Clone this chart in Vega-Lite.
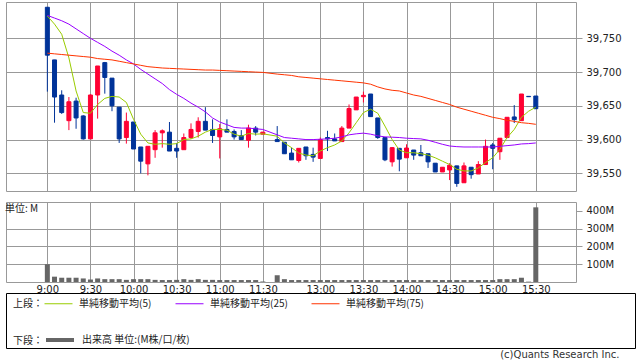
{
  "$schema": "https://vega.github.io/schema/vega-lite/v6.json",
  "padding": {"left": 4, "top": 1, "right": 4, "bottom": 2},
  "background": "white",
  "bounds": "flush",
  "spacing": 11,
  "config": {
    "view": {"stroke": "#999", "strokeWidth": 1},
    "font": "DejaVu Sans",
    "axis": {"labelFont": "DejaVu Sans", "labelFontSize": 10, "labelColor": "#222", "gridColor": "#999", "gridOpacity": 1, "gridWidth": 1, "tickColor": "#999", "domain": false, "title": null},
    "legend": {"padding": 0, "labelFont": "Noto Sans CJK JP", "labelFontSize": 10, "labelColor": "#222", "titleFont": "Noto Sans CJK JP", "titleFontSize": 10, "titleFontWeight": "normal", "titleColor": "#222"}
  },
  "title": {"text": "(c)Quants Research Inc.", "orient": "bottom", "anchor": "end", "font": "DejaVu Sans", "fontSize": 10, "fontWeight": "normal", "color": "#333", "offset": 1, "dx": -16},
  "datasets": {
    "bars": [
      {"t": 0, "o": 39796, "h": 39796, "l": 39671, "c": 39725, "ma5": 39783, "ma25": 39784, "ma75": 39728, "vol": 100},
      {"t": 1, "o": 39718, "h": 39718, "l": 39625, "c": 39663, "ma5": 39771, "ma25": 39780, "ma75": 39727, "vol": 30},
      {"t": 2, "o": 39666, "h": 39673, "l": 39638, "c": 39640, "ma5": 39756, "ma25": 39776, "ma75": 39726, "vol": 24},
      {"t": 3, "o": 39628, "h": 39663, "l": 39614, "c": 39656, "ma5": 39721, "ma25": 39771, "ma75": 39725, "vol": 24},
      {"t": 4, "o": 39657, "h": 39662, "l": 39616, "c": 39632, "ma5": 39672, "ma25": 39764, "ma75": 39724, "vol": 24},
      {"t": 5, "o": 39635, "h": 39636, "l": 39600, "c": 39601, "ma5": 39640, "ma25": 39757, "ma75": 39723, "vol": 20},
      {"t": 6, "o": 39601, "h": 39667, "l": 39601, "c": 39666, "ma5": 39639, "ma25": 39750, "ma75": 39722, "vol": 14},
      {"t": 7, "o": 39666, "h": 39709, "l": 39631, "c": 39709, "ma5": 39652, "ma25": 39744, "ma75": 39720, "vol": 20},
      {"t": 8, "o": 39714, "h": 39715, "l": 39668, "c": 39692, "ma5": 39661, "ma25": 39738, "ma75": 39719, "vol": 16},
      {"t": 9, "o": 39691, "h": 39691, "l": 39642, "c": 39650, "ma5": 39664, "ma25": 39731, "ma75": 39718, "vol": 16},
      {"t": 10, "o": 39648, "h": 39648, "l": 39595, "c": 39601, "ma5": 39663, "ma25": 39725, "ma75": 39716, "vol": 16},
      {"t": 11, "o": 39603, "h": 39640, "l": 39594, "c": 39627, "ma5": 39655, "ma25": 39718, "ma75": 39714, "vol": 12},
      {"t": 12, "o": 39626, "h": 39626, "l": 39586, "c": 39586, "ma5": 39630, "ma25": 39712, "ma75": 39712, "vol": 16},
      {"t": 13, "o": 39589, "h": 39589, "l": 39550, "c": 39568, "ma5": 39608, "ma25": 39704, "ma75": 39710, "vol": 16},
      {"t": 14, "o": 39564, "h": 39590, "l": 39547, "c": 39590, "ma5": 39595, "ma25": 39697, "ma75": 39708, "vol": 16},
      {"t": 15, "o": 39585, "h": 39614, "l": 39573, "c": 39610, "ma5": 39593, "ma25": 39690, "ma75": 39707, "vol": 12},
      {"t": 16, "o": 39610, "h": 39615, "l": 39588, "c": 39613, "ma5": 39594, "ma25": 39683, "ma75": 39706, "vol": 11},
      {"t": 17, "o": 39611, "h": 39626, "l": 39583, "c": 39583, "ma5": 39593, "ma25": 39674, "ma75": 39705.5, "vol": 11},
      {"t": 18, "o": 39587, "h": 39595, "l": 39573, "c": 39583, "ma5": 39594, "ma25": 39667, "ma75": 39705, "vol": 12},
      {"t": 19, "o": 39585, "h": 39609, "l": 39585, "c": 39603, "ma5": 39600, "ma25": 39661, "ma75": 39704.5, "vol": 16},
      {"t": 20, "o": 39603, "h": 39624, "l": 39601, "c": 39615, "ma5": 39601, "ma25": 39654, "ma75": 39704, "vol": 12},
      {"t": 21, "o": 39612, "h": 39633, "l": 39603, "c": 39627, "ma5": 39605, "ma25": 39648, "ma75": 39703.5, "vol": 16},
      {"t": 22, "o": 39627, "h": 39648, "l": 39614, "c": 39614, "ma5": 39611, "ma25": 39641, "ma75": 39703, "vol": 12},
      {"t": 23, "o": 39615, "h": 39630, "l": 39595, "c": 39606, "ma5": 39615, "ma25": 39632, "ma75": 39703, "vol": 12},
      {"t": 24, "o": 39604, "h": 39623, "l": 39572, "c": 39616, "ma5": 39615, "ma25": 39626, "ma75": 39702.5, "vol": 11},
      {"t": 25, "o": 39615, "h": 39630, "l": 39611, "c": 39611, "ma5": 39614, "ma25": 39622, "ma75": 39702, "vol": 11},
      {"t": 26, "o": 39612, "h": 39615, "l": 39600, "c": 39604, "ma5": 39608, "ma25": 39618, "ma75": 39701.5, "vol": 11},
      {"t": 27, "o": 39606, "h": 39614, "l": 39600, "c": 39600, "ma5": 39605, "ma25": 39617, "ma75": 39701, "vol": 11},
      {"t": 28, "o": 39599, "h": 39622, "l": 39588, "c": 39617, "ma5": 39609, "ma25": 39617, "ma75": 39700.5, "vol": 11},
      {"t": 29, "o": 39617, "h": 39620, "l": 39606, "c": 39611, "ma5": 39608, "ma25": 39616, "ma75": 39700, "vol": 11},
      {"t": 30, "o": 39608, "h": 39611, "l": 39608, "c": 39611, "ma5": 39608.5, "ma25": 39615, "ma75": 39699.5, "vol": 3},
      {"t": 32, "o": 39600, "h": 39620, "l": 39597, "c": 39597, "ma5": 39605, "ma25": 39607, "ma75": 39697, "vol": 38},
      {"t": 33, "o": 39596, "h": 39596, "l": 39579, "c": 39579, "ma5": 39595, "ma25": 39603, "ma75": 39696, "vol": 16},
      {"t": 34, "o": 39580, "h": 39588, "l": 39570, "c": 39570, "ma5": 39588, "ma25": 39602, "ma75": 39695, "vol": 11},
      {"t": 35, "o": 39569, "h": 39587, "l": 39566, "c": 39587, "ma5": 39580, "ma25": 39601, "ma75": 39693, "vol": 11},
      {"t": 36, "o": 39589, "h": 39589, "l": 39570, "c": 39576, "ma5": 39577, "ma25": 39600, "ma75": 39692, "vol": 11},
      {"t": 37, "o": 39578, "h": 39588, "l": 39567, "c": 39574, "ma5": 39576, "ma25": 39600, "ma75": 39691, "vol": 11},
      {"t": 38, "o": 39572, "h": 39603, "l": 39572, "c": 39600, "ma5": 39583, "ma25": 39600.5, "ma75": 39690, "vol": 11},
      {"t": 39, "o": 39603, "h": 39613, "l": 39583, "c": 39601, "ma5": 39588, "ma25": 39601, "ma75": 39689, "vol": 11},
      {"t": 40, "o": 39601, "h": 39609, "l": 39598, "c": 39598, "ma5": 39592, "ma25": 39602, "ma75": 39688, "vol": 11},
      {"t": 41, "o": 39597, "h": 39620, "l": 39597, "c": 39617, "ma5": 39598, "ma25": 39604, "ma75": 39687, "vol": 11},
      {"t": 42, "o": 39617, "h": 39652, "l": 39617, "c": 39646, "ma5": 39610, "ma25": 39607, "ma75": 39686, "vol": 11},
      {"t": 43, "o": 39644, "h": 39663, "l": 39644, "c": 39663, "ma5": 39625, "ma25": 39608.5, "ma75": 39685, "vol": 11},
      {"t": 44, "o": 39663.5, "h": 39671, "l": 39655, "c": 39665.5, "ma5": 39640, "ma25": 39609.5, "ma75": 39684, "vol": 11},
      {"t": 45, "o": 39667.5, "h": 39667.5, "l": 39634, "c": 39634, "ma5": 39645, "ma25": 39608, "ma75": 39682, "vol": 11},
      {"t": 46, "o": 39632, "h": 39632, "l": 39601, "c": 39603, "ma5": 39639, "ma25": 39605.5, "ma75": 39678, "vol": 11},
      {"t": 47, "o": 39603, "h": 39603, "l": 39568, "c": 39570, "ma5": 39620, "ma25": 39604, "ma75": 39675, "vol": 11},
      {"t": 48, "o": 39567, "h": 39589, "l": 39560, "c": 39588, "ma5": 39600, "ma25": 39603.5, "ma75": 39673, "vol": 11},
      {"t": 49, "o": 39587, "h": 39587, "l": 39553, "c": 39571, "ma5": 39584.5, "ma25": 39603, "ma75": 39672, "vol": 11},
      {"t": 50, "o": 39573, "h": 39593, "l": 39573, "c": 39587.5, "ma5": 39580.5, "ma25": 39602, "ma75": 39669, "vol": 11},
      {"t": 51, "o": 39584.5, "h": 39584.5, "l": 39570, "c": 39577, "ma5": 39580.5, "ma25": 39601.5, "ma75": 39666, "vol": 11},
      {"t": 52, "o": 39580.5, "h": 39592, "l": 39576, "c": 39576, "ma5": 39579, "ma25": 39601, "ma75": 39664, "vol": 11},
      {"t": 53, "o": 39579, "h": 39579, "l": 39558, "c": 39567, "ma5": 39577, "ma25": 39599, "ma75": 39661, "vol": 11},
      {"t": 54, "o": 39565, "h": 39565, "l": 39552, "c": 39552, "ma5": 39573, "ma25": 39596, "ma75": 39658, "vol": 11},
      {"t": 55, "o": 39552, "h": 39559, "l": 39552, "c": 39559, "ma5": 39568, "ma25": 39593, "ma75": 39655, "vol": 11},
      {"t": 56, "o": 39555, "h": 39565, "l": 39540, "c": 39562, "ma5": 39563, "ma25": 39590.5, "ma75": 39652, "vol": 11},
      {"t": 57, "o": 39561, "h": 39561, "l": 39530, "c": 39535, "ma5": 39556, "ma25": 39589.5, "ma75": 39648, "vol": 11},
      {"t": 58, "o": 39536, "h": 39566, "l": 39536, "c": 39561, "ma5": 39553.5, "ma25": 39589, "ma75": 39645, "vol": 11},
      {"t": 59, "o": 39559, "h": 39559, "l": 39542, "c": 39548, "ma5": 39553.5, "ma25": 39589, "ma75": 39642, "vol": 11},
      {"t": 60, "o": 39549, "h": 39568, "l": 39549, "c": 39563, "ma5": 39558, "ma25": 39589, "ma75": 39639, "vol": 11},
      {"t": 61, "o": 39563, "h": 39600, "l": 39563, "c": 39590, "ma5": 39566, "ma25": 39589, "ma75": 39636, "vol": 11},
      {"t": 62, "o": 39592, "h": 39595, "l": 39556, "c": 39587, "ma5": 39573, "ma25": 39589, "ma75": 39633, "vol": 11},
      {"t": 63, "o": 39582, "h": 39602, "l": 39570, "c": 39602, "ma5": 39585.5, "ma25": 39590, "ma75": 39631, "vol": 16},
      {"t": 64, "o": 39603, "h": 39633, "l": 39602, "c": 39633, "ma5": 39603, "ma25": 39591, "ma75": 39628.5, "vol": 16},
      {"t": 65, "o": 39633.5, "h": 39651, "l": 39624.5, "c": 39629.5, "ma5": 39615, "ma25": 39592, "ma75": 39627, "vol": 16},
      {"t": 66, "o": 39628, "h": 39667.5, "l": 39628, "c": 39667.5, "ma5": 39633, "ma25": 39593.5, "ma75": 39625, "vol": 24},
      {"t": 67, "o": 39664, "h": 39664, "l": 39663.5, "c": 39663.5, "ma5": 39642, "ma25": 39594, "ma75": 39624, "vol": 2},
      {"t": 68, "o": 39664.5, "h": 39664.5, "l": 39645.7, "c": 39645.7, "ma5": 39648, "ma25": 39595, "ma75": 39622.6, "vol": 420}
    ]
  },
  "vconcat": [
    {
      "width": 570,
      "height": 189,
      "data": {"name": "bars"},
      "encoding": {
        "x": {"field": "t", "type": "quantitative", "scale": {"domain": [-5.06, 72.9], "nice": false, "zero": false},
          "axis": {"values": [0, 6, 12, 18, 24, 30, 38, 44, 50, 56, 62, 68], "grid": true, "labels": false, "ticks": false, "domain": false}}
      },
      "layer": [
        {
          "mark": {"type": "rule", "strokeWidth": 1},
          "encoding": {
            "y": {"field": "l", "type": "quantitative", "scale": {"domain": [39523.8, 39803.8], "nice": false, "zero": false},
              "axis": {"orient": "right", "values": [39550, 39600, 39650, 39700, 39750], "labelExpr": "format(datum.value, ',.0f')", "grid": true, "tickSize": 6, "labelPadding": 4, "domain": false}},
            "y2": {"field": "h"},
            "color": {"condition": {"test": "datum.c >= datum.o", "value": "#ff0033"}, "value": "#003399"}
          }
        },
        {
          "mark": {"type": "bar", "size": 4, "strokeWidth": 1},
          "encoding": {
            "y": {"field": "o", "type": "quantitative"},
            "y2": {"field": "c"},
            "color": {"condition": {"test": "datum.c >= datum.o", "value": "#ff0033"}, "value": "#003399"},
            "stroke": {"condition": {"test": "datum.c >= datum.o", "value": "#ff0033"}, "value": "#003399"}
          }
        },
        {
          "transform": [{"fold": ["ma5", "ma25", "ma75"], "as": ["key", "val"]}],
          "mark": {"type": "line", "strokeWidth": 1},
          "encoding": {
            "y": {"field": "val", "type": "quantitative"},
            "stroke": {"field": "key", "type": "nominal",
              "scale": {"domain": ["ma5", "ma25", "ma75"], "range": ["#99cc00", "#9900ff", "#ff3300"]},
              "legend": {"orient": "none", "legendX": 7, "legendY": 287, "direction": "horizontal", "title": "上段：", "titleOrient": "left", "titleAnchor": "middle", "titleBaseline": "top", "titlePadding": 1, "symbolType": "stroke", "symbolSize": 784, "symbolStrokeWidth": 1, "labelOffset": 6, "columnPadding": 21,
                "labelExpr": "datum.value == 'ma5' ? '単純移動平均(5)' : datum.value == 'ma25' ? '単純移動平均(25)' : '単純移動平均(75)'"}
            }
          }
        }
      ]
    },
    {
      "width": 570,
      "height": 80,
      "data": {"name": "bars"},
      "title": {"text": "単位: M", "anchor": "start", "orient": "top", "offset": -12, "font": "Noto Sans CJK JP", "fontSize": 10, "fontWeight": "normal", "color": "#222", "dx": -1},
      "mark": {"type": "bar", "size": 5},
      "encoding": {
        "x": {"field": "t", "type": "quantitative", "scale": {"domain": [-5.06, 72.9], "nice": false, "zero": false},
          "axis": {"values": [0, 6, 12, 18, 24, 30, 38, 44, 50, 56, 62, 68], "grid": true, "ticks": false, "domain": false, "labelPadding": 2, "labelOverlap": false, "labelFlush": false,
            "labelExpr": "datum.value <= 30 ? ['9:00','9:30','10:00','10:30','11:00','11:30'][datum.value/6] : ['13:00','13:30','14:00','14:30','15:00','15:30'][(datum.value-38)/6]"}},
        "y": {"field": "vol", "type": "quantitative", "scale": {"domain": [0, 450], "nice": false},
          "axis": {"orient": "right", "values": [100, 200, 300, 400], "grid": true, "tickSize": 6, "labelPadding": 4, "domain": false,
            "labelExpr": "datum.value + 'M'",
            "gridOpacity": {"condition": {"test": "datum.value >= 400", "value": 0}, "value": 1}}},
        "fill": {"datum": "出来高 単位:(M株/口/枚)", "type": "nominal", "scale": {"range": ["#666666"]},
          "legend": {"orient": "none", "legendX": 7, "legendY": 322, "title": "下段：", "titleOrient": "left", "titleAnchor": "middle", "titleBaseline": "top", "titlePadding": 1, "symbolType": "stroke", "symbolSize": 784, "symbolStrokeWidth": 4, "symbolStrokeColor": "#666666", "labelOffset": 6}}
      }
    },
    {
      "width": 629,
      "height": 55,
      "view": {"stroke": "#000000", "strokeWidth": 1},
      "data": {"values": []},
      "mark": "rule",
      "encoding": {}
    }
  ]
}
